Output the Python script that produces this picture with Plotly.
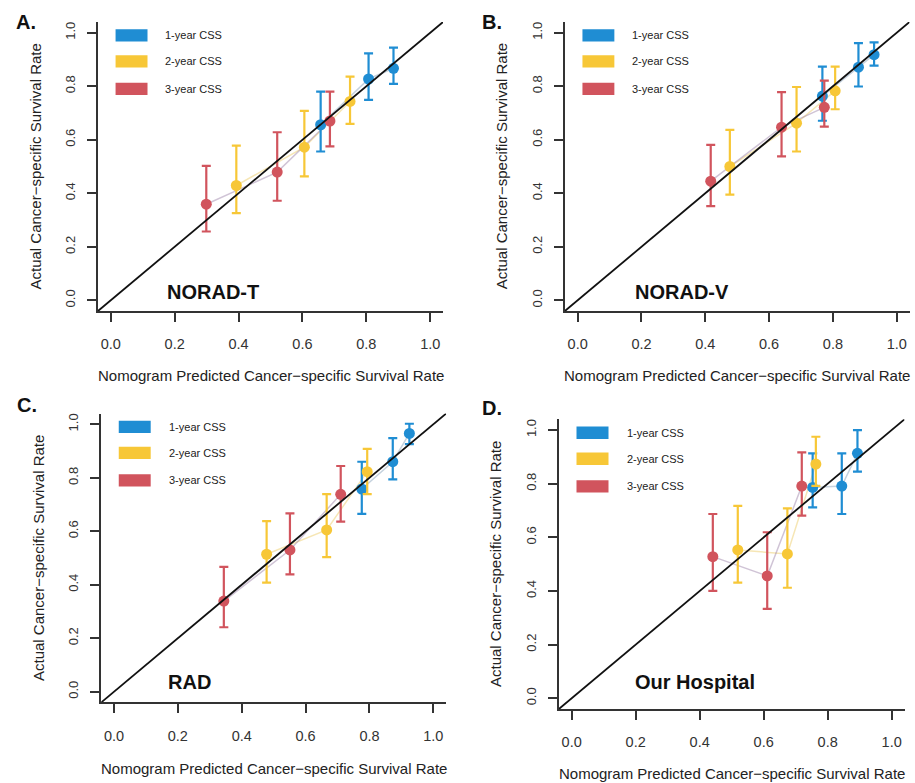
import plotly.graph_objects as go

W, H = 915, 783

# ---------------- data ----------------
panel_letters = ["A.", "B.", "C.", "D."]
panel_names = ["NORAD-T", "NORAD-V", "RAD", "Our Hospital"]
series_names = ["1-year CSS", "2-year CSS", "3-year CSS"]
tick_vals = [0.0, 0.2, 0.4, 0.6, 0.8, 1.0]
tick_text = ["0.0", "0.2", "0.4", "0.6", "0.8", "1.0"]

# Panel A  (NORAD-T)
A_x1 = [0.657, 0.807, 0.885]; A_y1 = [0.656, 0.827, 0.867]; A_lo1 = [0.556, 0.749, 0.809]; A_hi1 = [0.780, 0.923, 0.944]
A_x2 = [0.393, 0.606, 0.749]; A_y2 = [0.429, 0.572, 0.743]; A_lo2 = [0.326, 0.463, 0.659]; A_hi2 = [0.578, 0.708, 0.836]
A_x3 = [0.299, 0.521, 0.686]; A_y3 = [0.359, 0.479, 0.670]; A_lo3 = [0.257, 0.372, 0.575]; A_hi3 = [0.502, 0.628, 0.780]
# Panel B  (NORAD-V)
B_x1 = [0.767, 0.880, 0.929]; B_y1 = [0.763, 0.871, 0.918]; B_lo1 = [0.671, 0.799, 0.877]; B_hi1 = [0.873, 0.961, 0.964]
B_x2 = [0.477, 0.686, 0.807]; B_y2 = [0.500, 0.662, 0.783]; B_lo2 = [0.395, 0.556, 0.714]; B_hi2 = [0.637, 0.797, 0.873]
B_x3 = [0.417, 0.639, 0.773]; B_y3 = [0.445, 0.647, 0.721]; B_lo3 = [0.352, 0.538, 0.649]; B_hi3 = [0.581, 0.778, 0.821]
# Panel C  (RAD)
C_x1 = [0.776, 0.873, 0.925]; C_y1 = [0.758, 0.860, 0.966]; C_lo1 = [0.665, 0.794, 0.926]; C_hi1 = [0.860, 0.948, 1.002]
C_x2 = [0.478, 0.666, 0.793]; C_y2 = [0.514, 0.605, 0.823]; C_lo2 = [0.408, 0.503, 0.739]; C_hi2 = [0.638, 0.739, 0.908]
C_x3 = [0.344, 0.551, 0.710]; C_y3 = [0.339, 0.530, 0.738]; C_lo3 = [0.241, 0.439, 0.636]; C_hi3 = [0.467, 0.667, 0.844]
# Panel D  (Our Hospital)
D_x1 = [0.753, 0.844, 0.893]; D_y1 = [0.786, 0.791, 0.913]; D_lo1 = [0.712, 0.687, 0.845]; D_hi1 = [0.913, 0.913, 1.000]
D_x2 = [0.519, 0.674, 0.763]; D_y2 = [0.553, 0.538, 0.873]; D_lo2 = [0.431, 0.412, 0.792]; D_hi2 = [0.717, 0.708, 0.975]
D_x3 = [0.441, 0.611, 0.719]; D_y3 = [0.528, 0.456, 0.791]; D_lo3 = [0.400, 0.333, 0.681]; D_hi3 = [0.687, 0.619, 0.917]

panels = [
    [(A_x1, A_y1, A_lo1, A_hi1), (A_x2, A_y2, A_lo2, A_hi2), (A_x3, A_y3, A_lo3, A_hi3)],
    [(B_x1, B_y1, B_lo1, B_hi1), (B_x2, B_y2, B_lo2, B_hi2), (B_x3, B_y3, B_lo3, B_hi3)],
    [(C_x1, C_y1, C_lo1, C_hi1), (C_x2, C_y2, C_lo2, C_hi2), (C_x3, C_y3, C_lo3, C_hi3)],
    [(D_x1, D_y1, D_lo1, D_hi1), (D_x2, D_y2, D_lo2, D_hi2), (D_x3, D_y3, D_lo3, D_hi3)],
]

# ---------------- styles ----------------
colors = ["#1f8dd3", "#f7c737", "#d1545d"]
line_colors = ["rgba(140,165,190,0.5)", "rgba(238,210,120,0.55)", "rgba(150,125,165,0.45)"]
FONT = "Liberation Sans, Arial, Helvetica, sans-serif"
AX_RANGE = [-0.04, 1.04]

# plot regions in pixels: (left, right, top, bottom)
regions = [
    (98.0, 443.0, 22.0, 311.0),
    (564.9, 909.5, 22.0, 311.0),
    (101.2, 446.1, 413.6, 702.4),
    (558.9, 904.5, 419.3, 709.0),
]
letter_pos = [(26, 22), (492, 22), (27, 405), (492, 408)]
xtitle_pos = [(270.5, 375), (737, 375), (273.7, 768), (731.7, 773)]
ytitle_pos = [(35, 166.5), (501.7, 166.5), (38, 558), (495, 564)]
name_pos = [(0.170, 0.030), (0.174, 0.030), (0.163, 0.037), (0.193, 0.062)]
legend_y = [0.990, 0.893, 0.790]

def px(x):
    return x / W

def py(y):
    return 1 - y / H

fig = go.Figure()
layout = dict(
    width=W, height=H, margin=dict(l=0, r=0, t=0, b=0),
    paper_bgcolor="white", plot_bgcolor="white", showlegend=False,
    font=dict(family=FONT, color="#333333"),
)
annotations = []
shapes = []

for i, (series, reg) in enumerate(zip(panels, regions)):
    n = "" if i == 0 else str(i + 1)
    xa, ya = "x" + n, "y" + n
    l, r, t, b = reg
    axis_common = dict(
        range=AX_RANGE, tickvals=tick_vals, ticktext=tick_text,
        showgrid=False, zeroline=False, showline=True, linecolor="#333333", linewidth=1.5,
        ticks="outside", ticklen=9, tickwidth=1.5, tickcolor="#333333",
        mirror=False, fixedrange=True,
    )
    layout["xaxis" + n] = dict(axis_common, domain=[px(l), px(r)], anchor=ya, ticklabelstandoff=10,
                               tickfont=dict(size=14.5, color="#333333", family=FONT))
    layout["yaxis" + n] = dict(axis_common, domain=[py(b), py(t)], anchor=xa, tickangle=-90, ticklabelstandoff=7,
                               tickfont=dict(size=13, color="#333333", family=FONT))

    # faint connecting calibration lines
    for k, (xs, ys, lo, hi) in enumerate(series):
        fig.add_trace(go.Scatter(x=xs, y=ys, mode="lines", xaxis=xa, yaxis=ya,
                                 line=dict(color=line_colors[k], width=1.5), hoverinfo="skip"))
    # points with error bars
    for k, (xs, ys, lo, hi) in enumerate(series):
        fig.add_trace(go.Scatter(
            x=xs, y=ys, mode="markers", xaxis=xa, yaxis=ya, name=series_names[k],
            marker=dict(color=colors[k], size=11, line=dict(width=0)),
            error_y=dict(type="data", symmetric=False,
                         array=[h - y for h, y in zip(hi, ys)],
                         arrayminus=[y - lo_ for y, lo_ in zip(ys, lo)],
                         color=colors[k], thickness=2.2, width=4.5),
        ))
    # 45-degree reference line
    fig.add_trace(go.Scatter(x=AX_RANGE, y=AX_RANGE, mode="lines", xaxis=xa, yaxis=ya,
                             line=dict(color="#111111", width=1.8), hoverinfo="skip"))

    # legend boxes and labels
    for k in range(3):
        shapes.append(dict(type="rect", xref=xa, yref=ya, x0=0.015, x1=0.115,
                           y0=legend_y[k] - 0.023, y1=legend_y[k] + 0.023,
                           fillcolor=colors[k], line=dict(width=0), layer="above"))
        annotations.append(dict(xref=xa, yref=ya, x=0.165, y=legend_y[k], text=series_names[k],
                                showarrow=False, xanchor="left", yanchor="middle",
                                font=dict(size=11, color="#222222", family=FONT)))
    # panel name
    annotations.append(dict(xref=xa, yref=ya, x=name_pos[i][0], y=name_pos[i][1], text="<b>%s</b>" % panel_names[i],
                            showarrow=False, xanchor="left", yanchor="middle",
                            font=dict(size=20, color="#111111", family=FONT)))
    # panel letter
    annotations.append(dict(xref="paper", yref="paper", x=px(letter_pos[i][0]), y=py(letter_pos[i][1]),
                            text="<b>%s</b>" % panel_letters[i], showarrow=False,
                            xanchor="center", yanchor="middle",
                            font=dict(size=20, color="#111111", family=FONT)))
    # axis titles
    annotations.append(dict(xref="paper", yref="paper", x=px(xtitle_pos[i][0]), y=py(xtitle_pos[i][1]),
                            text="Nomogram Predicted Cancer\u2212specific Survival Rate", showarrow=False,
                            xanchor="center", yanchor="middle",
                            font=dict(size=15, color="#222222", family=FONT)))
    annotations.append(dict(xref="paper", yref="paper", x=px(ytitle_pos[i][0]), y=py(ytitle_pos[i][1]),
                            text="Actual Cancer\u2212specific Survival Rate", showarrow=False, textangle=-90,
                            xanchor="center", yanchor="middle",
                            font=dict(size=15, color="#222222", family=FONT)))

layout["annotations"] = annotations
layout["shapes"] = shapes
fig.update_layout(**layout)
fig.write_html("out.html", config={"displayModeBar": False},
               post_script="document.body.style.margin='0';document.body.style.overflow='hidden';")
